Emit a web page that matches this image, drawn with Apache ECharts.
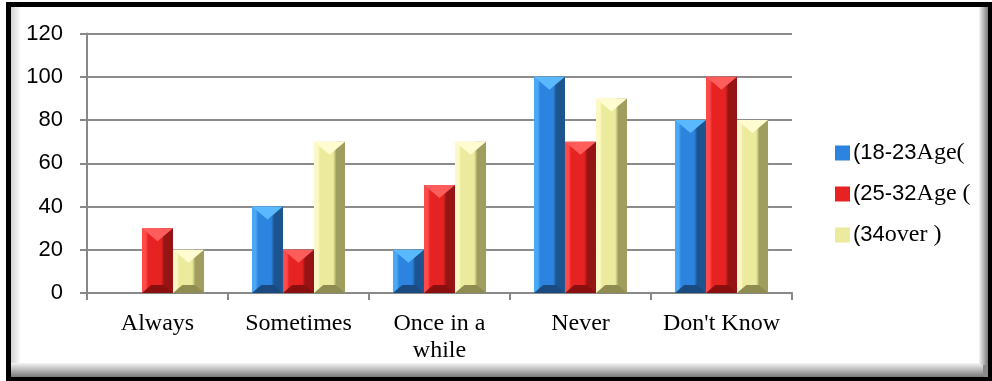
<!DOCTYPE html>
<html>
<head>
<meta charset="utf-8">
<style>
  html, body { margin: 0; padding: 0; background: #fff; }
  #chart { width: 992px; height: 381px; }
</style>
<script src="https://cdn.jsdelivr.net/npm/echarts@6/dist/echarts.min.js"></script>
</head>
<body>
<div id="chart"></div>
<script>
// Response categories and answer counts per age group
const categories = ['Always', 'Sometimes', 'Once in a\nwhile', 'Never', "Don't Know"];
const age18to23 = [0, 40, 20, 100, 80];
const age25to32 = [30, 20, 50, 70, 100];
const age34over = [20, 70, 70, 90, 80];
const seriesNames = ['(18-23Age(', '(25-32Age (', '(34over )'];
const yTicks = { min: 0, max: 120, step: 20 };

// Shades for each group: light edge, main face, dark edge, top bevel, bottom bevel
const palettes = [
  { light: '#4aa8f5', main: '#2c84de', dark: '#1c548f', top: '#5ab8ff', bottom: '#1a4a80' },
  { light: '#ff4a4a', main: '#e62222', dark: '#961414', top: '#ff5c5c', bottom: '#8a1010' },
  { light: '#fbf9c6', main: '#ecea9c', dark: '#a09e5e', top: '#fffcd2', bottom: '#8e8c50' }
];

const SANS = '"Liberation Sans", Arial, sans-serif';
const SERIF = '"Liberation Serif", "Times New Roman", serif';

function toPairs(arr) { return arr.map((v, i) => [i, v]); }

// Draws a bevelled bar: shaded body, light top wedge, dark foot
function renderBar(params, api) {
  const cat = api.value(0);
  const val = api.value(1);
  if (!val) return null;
  const p0 = api.coord([cat, 0]);
  const p1 = api.coord([cat, val]);
  const band = api.size([1, 0])[0];
  const w = band * 0.22;
  const idx = params.seriesIndex;
  const x0 = p0[0] - 1.5 * w + idx * w;
  const x1 = x0 + w;
  const yb = p0[1];
  const yt = p1[1];
  const h = yb - yt;
  const pal = palettes[idx];
  const xm = (x0 + x1) / 2;
  const tH = Math.min(w * 0.42, h * 0.5);
  const bH = Math.min(8, h * 0.3);
  const bIn = w * 0.3;
  return {
    type: 'group',
    children: [
      {
        type: 'rect',
        shape: { x: x0, y: yt, width: w, height: h },
        style: {
          fill: new echarts.graphic.LinearGradient(0, 0, 1, 0, [
            { offset: 0, color: pal.light },
            { offset: 0.12, color: pal.light },
            { offset: 0.2, color: pal.main },
            { offset: 0.62, color: pal.main },
            { offset: 0.72, color: pal.dark },
            { offset: 1, color: pal.dark }
          ])
        }
      },
      {
        type: 'polygon',
        shape: { points: [[x0, yt], [x1, yt], [xm, yt + tH]] },
        style: { fill: pal.top }
      },
      {
        type: 'polygon',
        shape: { points: [[x0, yb], [x1, yb], [x1 - bIn, yb - bH], [x0 + bIn, yb - bH]] },
        style: { fill: pal.bottom }
      }
    ]
  };
}

const chart = echarts.init(document.getElementById('chart'), null, { renderer: 'canvas' });

const seriesData = [age18to23, age25to32, age34over];

const option = {
  animation: false,
  backgroundColor: '#fff',
  graphic: [
    { type: 'rect', z: -10, shape: { x: 6, y: 2, width: 986, height: 379 }, style: { fill: '#000' } },
    { type: 'rect', z: -9, shape: { x: 11, y: 7, width: 977, height: 370 }, style: { fill: '#8a8a8a' } },
    {
      type: 'rect', z: -8, shape: { x: 11, y: 7, width: 10, height: 358 },
      style: { fill: new echarts.graphic.LinearGradient(0, 0, 1, 0, [{ offset: 0, color: '#d2d2d2' }, { offset: 1, color: '#ffffff' }]) }
    },
    {
      type: 'rect', z: -8, shape: { x: 11, y: 363, width: 972, height: 14 },
      style: { fill: new echarts.graphic.LinearGradient(0, 0, 0, 1, [{ offset: 0, color: '#f4f4f4' }, { offset: 1, color: '#7a7a7a' }]) }
    },
    {
      type: 'rect', z: -8, shape: { x: 979, y: 7, width: 9, height: 358 },
      style: { fill: new echarts.graphic.LinearGradient(0, 0, 1, 0, [{ offset: 0, color: '#f4f4f4' }, { offset: 1, color: '#7a7a7a' }]) }
    },
    { type: 'rect', z: -7, shape: { x: 20, y: 7, width: 959, height: 356 }, style: { fill: '#fff' } }
  ],
  grid: { left: 87, right: 200, top: 33.5, bottom: 88, containLabel: false },
  legend: {
    orient: 'vertical',
    left: 830,
    top: 136,
    itemGap: 17,
    itemWidth: 15,
    itemHeight: 15,
    icon: 'rect',
    data: seriesNames,
    formatter: function (name) {
      const m = name.match(/^(\(\d+(?:-\d+)?)(.*)$/);
      return m ? '{a|' + m[1] + '}{b|' + m[2] + '}' : name;
    },
    textStyle: {
      color: '#000',
      padding: [0, 0, 0, -2],
      rich: {
        a: { fontFamily: SANS, fontSize: 22, color: '#000' },
        b: { fontFamily: SERIF, fontSize: 24, color: '#000' }
      }
    }
  },
  xAxis: {
    type: 'category',
    data: categories,
    boundaryGap: true,
    axisLine: { lineStyle: { color: '#888', width: 2 } },
    axisTick: { show: true, length: 7, lineStyle: { color: '#888', width: 2 } },
    axisLabel: {
      fontFamily: SERIF, fontSize: 24, color: '#000', margin: 17, lineHeight: 27, interval: 0
    },
    splitLine: { show: false }
  },
  yAxis: {
    type: 'value',
    min: yTicks.min,
    max: yTicks.max,
    interval: yTicks.step,
    axisLine: { show: true, lineStyle: { color: '#888', width: 2 } },
    axisTick: { show: true, length: 7, lineStyle: { color: '#888', width: 2 } },
    axisLabel: { fontFamily: SANS, fontSize: 22, color: '#000', margin: 24 },
    splitLine: { show: true, lineStyle: { color: '#8c8c8c', width: 2 } }
  },
  series: seriesNames.map((name, i) => ({
    name: name,
    type: 'custom',
    renderItem: renderBar,
    encode: { x: 0, y: 1 },
    itemStyle: { color: palettes[i].main },
    data: toPairs(seriesData[i])
  }))
};

chart.setOption(option);
</script>
</body>
</html>
